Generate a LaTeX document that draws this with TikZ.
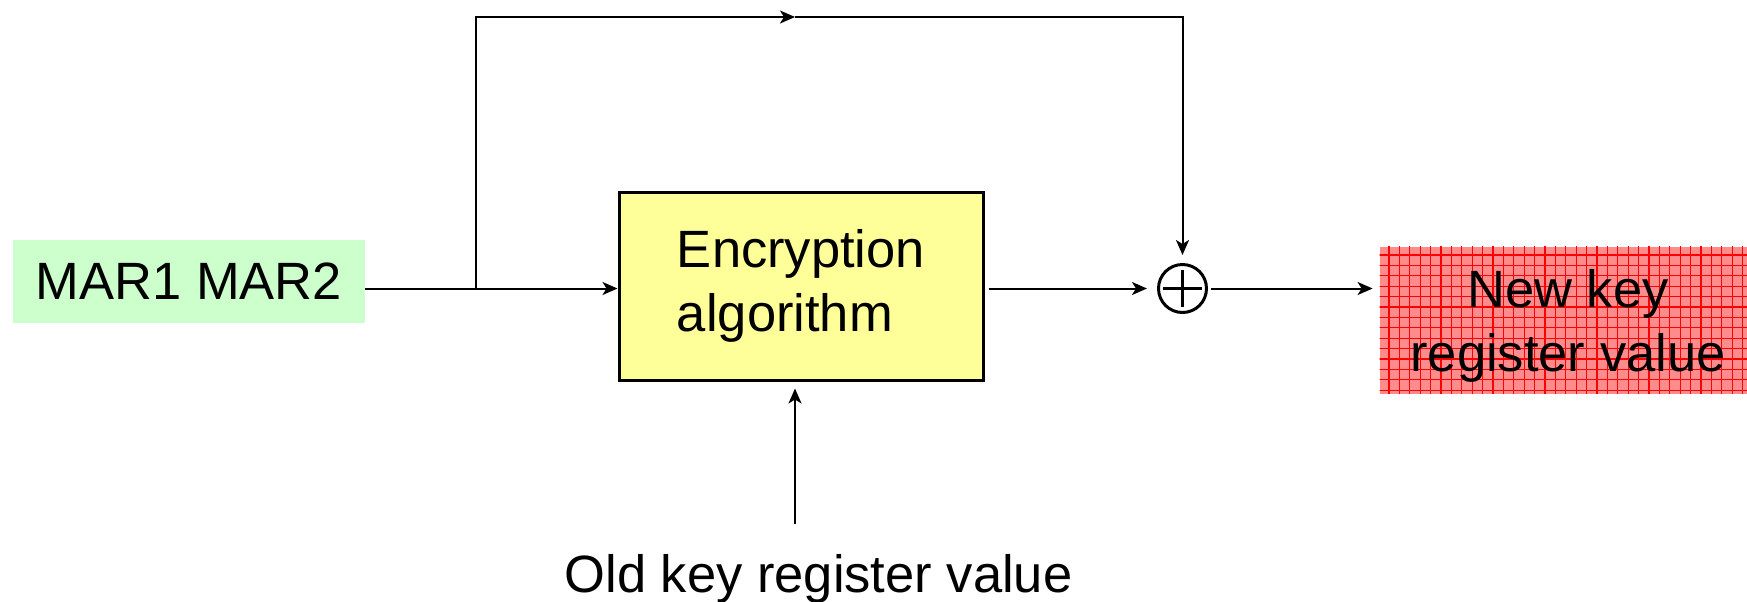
\documentclass[tikz,border=0pt]{standalone}
\usepackage{fontspec}
\setmainfont{Liberation Sans}
\usetikzlibrary{arrows.meta}
\definecolor{margreen}{RGB}{204,255,204}
\definecolor{encyellow}{RGB}{255,255,153}
\definecolor{keypink}{RGB}{255,140,140}
\begin{document}
\begin{tikzpicture}[x=0.5pt,y=-0.5pt,
  bigtext/.style={font=\fontsize{26.25pt}{32pt}\selectfont},
  flow/.style={line width=1pt,-{Stealth[length=7.5pt,width=6.5pt,inset=2pt]}},
  inbox/.style={bigtext,fill=margreen,minimum width=176pt,minimum height=41.5pt,inner sep=0pt},
  encbox/.style={bigtext,draw=black,line width=1.5pt,fill=encyellow,minimum width=182pt,minimum height=94pt,align=left,inner sep=0pt},
  outbox/.style={fill=keypink,minimum width=183.5pt,minimum height=73.5pt,inner sep=0pt},
  xorop/.style={circle,draw=black,line width=1.5pt,minimum size=24pt,inner sep=0pt},
  gridline/.style={red,line width=0.6pt}]
\useasboundingbox (0,0) rectangle (1747,601);

% blocks
\node[inbox] (mar) at (189,281.5) {MAR1 MAR2};
\node[encbox] (enc) at (801,286) {Encryption\\algorithm};
\node[xorop] (xor) at (1182.5,288.5) {};
\draw[line width=1.5pt] ([xshift=-9.75pt]xor.center) -- ([xshift=9.75pt]xor.center)
                        ([yshift=-9.25pt]xor.center) -- ([yshift=9.25pt]xor.center);

% output register with its grid texture
\node[outbox] (newkey) at (1563.5,320) {};
\begin{scope}
  \clip (newkey.south west) rectangle (newkey.north east);
  \foreach \i in {0,...,36} {
    \draw[gridline] (1389+\i*10.4,240) -- (1389+\i*10.4,400);
  }
  \foreach \j in {0,...,14} {
    \draw[gridline] (1375,255+\j*10.4) -- (1750,255+\j*10.4);
  }
\end{scope}
\node[bigtext,align=center,inner sep=0pt] (newkeytxt) at (1568,326) {New key\\register value};

\node[bigtext,inner sep=0pt,anchor=base] (oldkey) at (818.5,592) {Old key register value};

% connectors
\coordinate (br) at (476,288.5);
\coordinate (topmid) at (795,17);
\coordinate (oldtail) at (795,524);
\draw[flow] (mar.east |- br) -- (enc.west |- br);
\draw[flow] (br) |- (topmid);
\draw[flow,shorten >=4pt] (topmid) -| (xor.north);
\draw[flow,shorten <=2pt,shorten >=5pt] (enc.east |- xor.west) -- (xor.west);
\draw[flow,shorten <=1.5pt,shorten >=3.5pt] (xor.east) -- (newkey.west |- xor.east);
\draw[flow,shorten >=3.5pt] (oldtail) -- (oldtail |- enc.south);
\end{tikzpicture}
\end{document}
